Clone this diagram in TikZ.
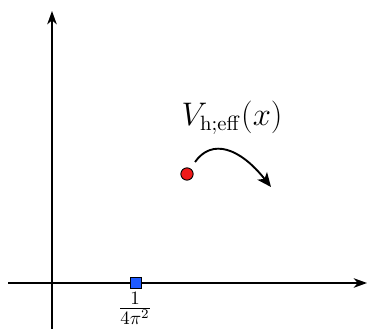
\documentclass[tikz,border=0pt]{standalone}
\usetikzlibrary{arrows.meta}
\definecolor{markblue}{RGB}{30,90,255}
\definecolor{markred}{RGB}{240,25,25}
\begin{document}
\begin{tikzpicture}[
        x=0.0186cm, y=-0.0186cm,
        font=\fontsize{16}{19}\selectfont,
        axis/.style={black, line width=1pt, -{Stealth[length=7pt, width=5pt, inset=2pt]}},
        flowarrow/.style={black, line width=1pt, -{Stealth[length=7.5pt, width=6.5pt, inset=2pt]}},
        squaremark/.style={draw=black, fill=markblue, line width=0.5pt, minimum size=5.5pt, inner sep=0pt},
        dotmark/.style={circle, draw=black, fill=markred, line width=0.5pt, minimum size=6.5pt, inner sep=0pt}
    ]
    \useasboundingbox (0,0) rectangle (369,329);

    % ==========================================
    % AXES
    % ==========================================
    \coordinate (xleft) at (8,283);
    \coordinate (xright) at (367,283);
    \coordinate (ybottom) at (52,329);
    \coordinate (ytop) at (52,11);
    \draw[axis] (xleft) -- (xright);
    \draw[axis] (ybottom) -- (ytop);

    % ==========================================
    % MARKERS
    % ==========================================
    \node[squaremark] (sq) at (136,283) {};
    \node[font=\Large, inner sep=0pt] (sqlabel) at (135,308) {$\frac{1}{4\pi^2}$};

    \node[dotmark] (dot) at (187,174) {};
    \node (vlabel) at (232,118) {$V_{\mathrm{h;eff}}(x)$};

    % curved arrow
    \coordinate (cstart) at (195,162);
    \coordinate (cend) at (271,187);
    \draw[flowarrow] (cstart) .. controls (212,138) and (240,148) .. (cend);
\end{tikzpicture}
\end{document}
